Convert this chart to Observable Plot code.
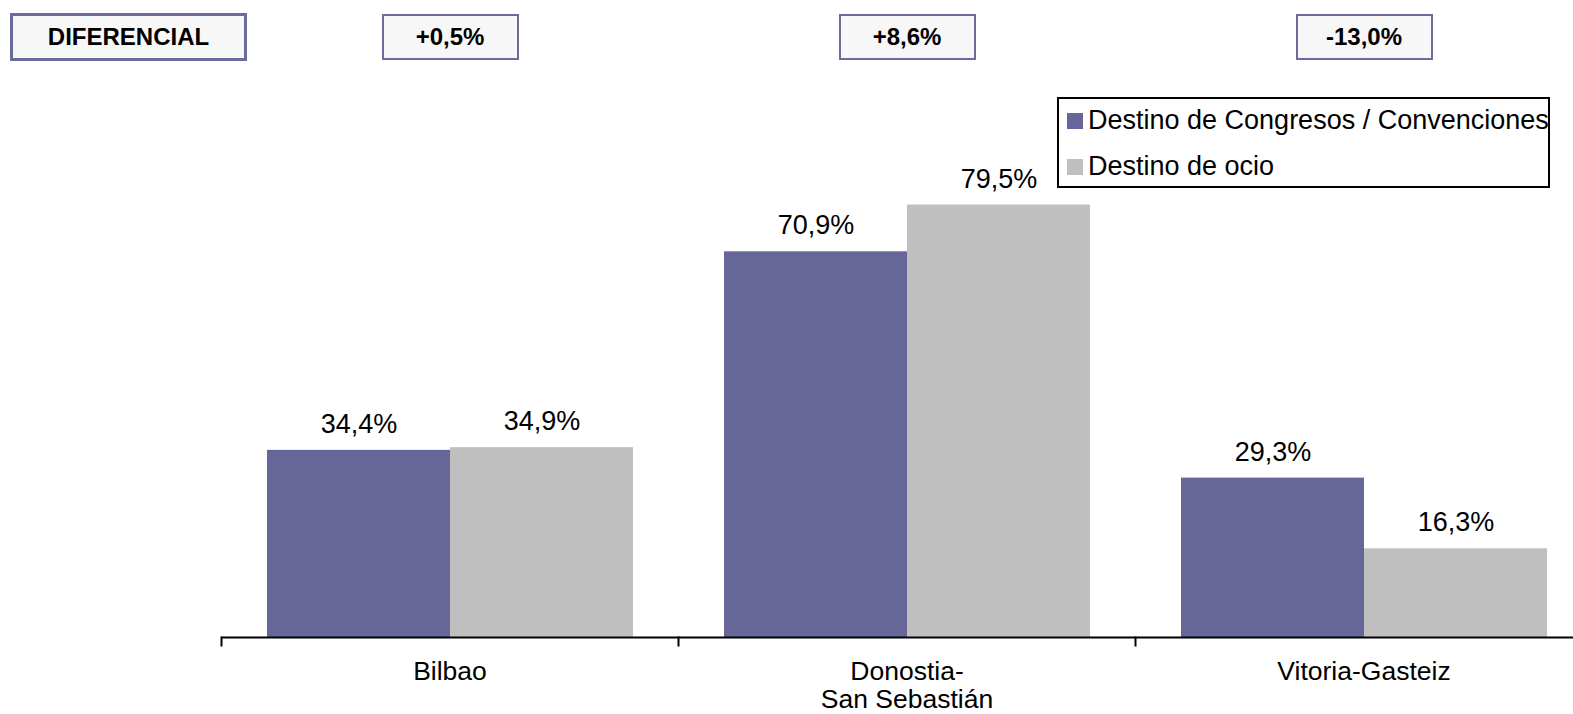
<!DOCTYPE html>
<html><head><meta charset="utf-8">
<script src="https://cdn.jsdelivr.net/npm/d3@7"></script>
<script src="https://cdn.jsdelivr.net/npm/@observablehq/plot@0.6"></script>
<style>
html,body{margin:0;padding:0;overflow:hidden;background:#fff;}
#wrap{position:relative;width:1573px;height:714px;overflow:hidden;font-family:"Liberation Sans",Arial,sans-serif;}
#wrap svg{position:absolute;left:0;top:0;max-width:none !important;}
.box{position:absolute;box-sizing:border-box;background:#f7f7f7;border:2px solid #6b6b9e;display:flex;align-items:center;justify-content:center;font-weight:bold;font-size:24px;color:#000;}
.legend{position:absolute;box-sizing:border-box;left:1057px;top:97px;width:493px;height:91px;border:2px solid #000;background:#fff;}
.legend .row{position:absolute;left:8px;display:flex;align-items:center;font-size:27px;color:#000;white-space:nowrap;}
.legend .sw{width:16px;height:16px;margin-right:5px;}
</style></head><body><div id="wrap"></div>
<script>
const cities = ["Bilbao", "Donostia-San Sebastián", "Vitoria-Gasteiz"];
const cityLabels = ["Bilbao", "Donostia-\nSan Sebastián", "Vitoria-Gasteiz"];
const series = ["Destino de Congresos / Convenciones", "Destino de ocio"];
const congresos = [34.4, 70.9, 29.3];
const ocio = [34.9, 79.5, 16.3];
const diferencial = ["+0,5%", "+8,6%", "-13,0%"];
const colors = ["#666699", "#bfbfbf"];

const data = cities.flatMap((c, i) => [
  {city: c, serie: series[0], value: congresos[i]},
  {city: c, serie: series[1], value: ocio[i]}
]);
const fmt = v => v.toFixed(1).replace(".", ",") + "%";

const chart = Plot.plot({
  width: 1592,
  height: 714,
  marginLeft: 221,
  marginRight: 0,
  marginTop: 93,
  marginBottom: 77,
  style: {fontFamily: "'Liberation Sans', Arial, sans-serif", fontSize: "27px", color: "#000", background: "transparent", overflow: "visible", maxWidth: "none"},
  fx: {domain: cities, padding: 0, label: null},
  x: {domain: series, paddingInner: 0, paddingOuter: 0.247, axis: null},
  y: {domain: [0, 100], axis: null},
  color: {domain: series, range: colors},
  marks: [
    Plot.barY(data, {fx: "city", x: "serie", y: "value", fill: "serie"}),
    Plot.text(data, {fx: "city", x: "serie", y: "value", text: d => fmt(d.value), dy: -26, lineAnchor: "middle", fontSize: 27, fill: "#000"}),
    Plot.ruleY([0], {stroke: "#000", strokeWidth: 2}),
    Plot.frame({anchor: "left", insetTop: 544, insetBottom: -8, stroke: "#000", strokeWidth: 2}),
    Plot.axisFx({anchor: "bottom", tickSize: 0, tickPadding: 22, fontSize: 26.5, lineHeight: 1.08, label: null,
      tickFormat: c => cityLabels[cities.indexOf(c)]})
  ]
});

const wrap = document.getElementById("wrap");
wrap.appendChild(chart);

// Differential boxes aligned to the fx scale
const fx = chart.scale("fx");
const bw = fx.bandwidth;
const head = document.createElement("div");
head.className = "box";
Object.assign(head.style, {left: "10px", top: "13px", width: "237px", height: "48px", borderWidth: "3px"});
head.textContent = "DIFERENCIAL";
wrap.appendChild(head);
cities.forEach((c, i) => {
  const cx = fx.apply(c) + bw / 2;
  const b = document.createElement("div");
  b.className = "box";
  Object.assign(b.style, {left: (cx - 68) + "px", top: "14px", width: "137px", height: "46px"});
  b.textContent = diferencial[i];
  wrap.appendChild(b);
});

// Legend
const leg = document.createElement("div");
leg.className = "legend";
series.forEach((s, i) => {
  const r = document.createElement("div");
  r.className = "row";
  r.style.top = (i === 0 ? 6 : 52) + "px";
  const sw = document.createElement("div");
  sw.className = "sw";
  sw.style.background = colors[i];
  const t = document.createElement("span");
  t.textContent = s;
  r.appendChild(sw); r.appendChild(t);
  leg.appendChild(r);
});
wrap.appendChild(leg);
</script>
</body></html>
